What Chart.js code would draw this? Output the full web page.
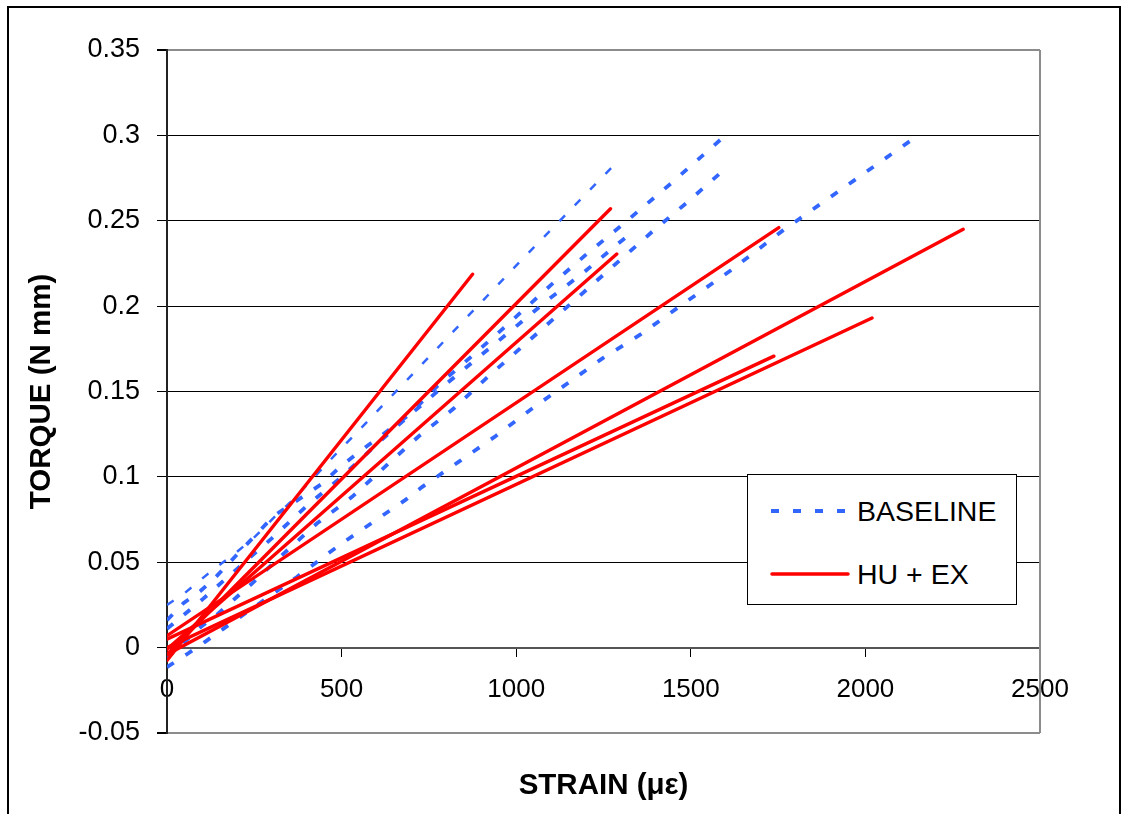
<!DOCTYPE html>
<html>
<head>
<meta charset="utf-8">
<script src="https://cdn.jsdelivr.net/npm/chart.js@4.4.1/dist/chart.umd.min.js"></script>
<style>
  html, body { margin: 0; padding: 0; background: #fff; overflow: hidden; }
  #wrap { position: relative; width: 1130px; height: 814px; }
  #legend {
    position: absolute; left: 747px; top: 474px; width: 268px; height: 129px;
    border: 1px solid #000; background: #fff;
    font-family: "Liberation Sans", Arial, sans-serif; font-size: 28.5px; color: #000;
  }
  .row { position: absolute; left: 0; right: 0; height: 40px; }
  .row svg { position: absolute; left: 22px; top: 15px; }
  .row span { position: absolute; left: 109px; top: 0; line-height: 40px; white-space: nowrap; }
</style>
</head>
<body>
<div id="wrap">
  <canvas id="chart" width="1130" height="814"></canvas>
  <div id="legend"></div>
</div>
<script>
const FONT = "'Liberation Sans', Arial, sans-serif";
const BLUE = '#3366ff';
const RED = '#ff0000';

const strainTicks = [0, 500, 1000, 1500, 2000, 2500];
const torqueTicks = [-0.05, 0, 0.05, 0.1, 0.15, 0.2, 0.25, 0.3, 0.35];

// baseline specimens, [strain, torque]
const baseline1 = [[0, 0.025], [51, 0.032], [104, 0.041], [147, 0.048], [200, 0.056], [252, 0.065], [310, 0.077], [358, 0.086], [491, 0.115], [539, 0.125], [1020, 0.228], [1282, 0.283]];
const baseline2 = [[0, 0.016], [47, 0.026], [95, 0.033], [138, 0.041], [305, 0.077], [444, 0.096], [496, 0.106], [553, 0.115], [632, 0.127], [697, 0.137], [773, 0.153], [869, 0.170], [963, 0.187], [1103, 0.213], [1199, 0.230], [1297, 0.2465], [1444, 0.272], [1588, 0.298]];
const baseline3 = [[0, -0.006], [99, 0.0125], [147, 0.020], [243, 0.0375], [334, 0.055], [429, 0.0727], [530, 0.0883], [630, 0.107], [721, 0.1238], [821, 0.140], [914, 0.1577], [1010, 0.175], [1394, 0.2444], [1488, 0.2605], [1581, 0.2773]];
const baseline4 = [[0, -0.0114], [56, -0.004], [109, 0.0034], [161, 0.011], [314, 0.033], [372, 0.0414], [467, 0.056], [515, 0.063], [577, 0.0717], [682, 0.0864], [730, 0.094], [835, 0.1088], [938, 0.1234], [1039, 0.139], [1247, 0.1694], [1356, 0.1834], [1460, 0.1987], [1615, 0.221], [1765, 0.2445], [2135, 0.2977]];
const baseline5 = [[0, 0.011], [100, 0.028], [200, 0.046], [300, 0.064], [400, 0.083], [500, 0.100], [600, 0.119], [700, 0.137], [797, 0.154], [896, 0.1707], [993, 0.187], [1096, 0.2045], [1192, 0.2195], [1291, 0.2365], [1337, 0.244]];

// HU + EX specimens
const huex1 = [[0, -0.0075], [875, 0.2187]];
const huex2 = [[0, -0.004], [1270, 0.257]];
const huex3 = [[0, -0.001], [1288, 0.2305]];
const huex4 = [[0, 0.007], [1752, 0.246]];
const huex5 = [[0, -0.004], [2280, 0.245]];
const huex6 = [[0, 0.0], [2019, 0.193]];
const huex7 = [[0, 0.005], [1738, 0.1707]];

const baselineSets = [baseline1, baseline2, baseline3, baseline4, baseline5];
const huexSets = [huex1, huex2, huex3, huex4, huex5, huex6, huex7];

const legendItems = [
  { label: 'BASELINE', color: BLUE, dash: [8, 14], width: 4 },
  { label: 'HU + EX', color: RED, dash: [], width: 3.5 },
];

function toPoints(pairs) {
  return pairs.map(([x, y]) => ({ x, y }));
}

const datasets = [];
baselineSets.forEach((s, i) => {
  datasets.push({
    label: 'BASELINE',
    data: toPoints(s),
    borderColor: BLUE,
    borderWidth: i === 0 ? 2.5 : 3.8,
    borderDash: [8, 14],
    order: 1,
  });
});
huexSets.forEach(s => {
  datasets.push({
    label: 'HU + EX',
    data: toPoints(s),
    borderColor: RED,
    borderWidth: 3.4,
    borderCapStyle: 'round',
    order: 0,
  });
});

const isEdge = v => Math.abs(v - 0.35) < 1e-9 || Math.abs(v + 0.05) < 1e-9;

// outer frame and right edge of the plot area
const framePlugin = {
  id: 'frame',
  beforeDraw(chart) {
    const ctx = chart.ctx;
    ctx.save();
    ctx.fillStyle = '#fff';
    ctx.fillRect(0, 0, chart.width, chart.height);
    ctx.strokeStyle = '#000';
    ctx.lineWidth = 2;
    ctx.strokeRect(8, 7, 1112, 860);
    ctx.restore();
  },
  beforeDatasetsDraw(chart) {
    const { ctx, chartArea } = chart;
    ctx.save();
    ctx.strokeStyle = '#8c8c8c';
    ctx.lineWidth = 2;
    ctx.beginPath();
    ctx.moveTo(chartArea.right, chartArea.top);
    ctx.lineTo(chartArea.right, chartArea.bottom);
    ctx.stroke();
    ctx.restore();
  },
};

new Chart(document.getElementById('chart'), {
  type: 'line',
  data: { datasets },
  plugins: [framePlugin],
  options: {
    responsive: false,
    animation: false,
    devicePixelRatio: 1,
    layout: { padding: { left: 0, top: 50, right: 90, bottom: 81 } },
    elements: {
      point: { radius: 0, hoverRadius: 0 },
      line: { tension: 0, fill: false },
    },
    plugins: {
      legend: { display: false },
      tooltip: { enabled: false },
    },
    scales: {
      x: {
        type: 'linear',
        min: 0,
        max: 2500,
        position: { y: 0 },
        afterBuildTicks: scale => { scale.ticks = strainTicks.map(v => ({ value: v })); },
        ticks: {
          color: '#000',
          padding: 0,
          maxRotation: 0,
          font: { family: FONT, size: 26, lineHeight: 2.65 },
          callback: v => String(v),
        },
        grid: { drawOnChartArea: false, drawTicks: true, tickLength: 8, color: '#000', tickColor: '#000' },
        border: { display: true, color: '#555', width: 2 },
        title: {
          display: true,
          text: 'STRAIN (με)',
          color: '#000',
          font: { family: FONT, size: 29.5, weight: 'bold' },
          padding: { top: 44, bottom: 0 },
        },
      },
      y: {
        type: 'linear',
        min: -0.05,
        max: 0.35,
        position: 'left',
        afterBuildTicks: scale => { scale.ticks = torqueTicks.map(v => ({ value: v })); },
        afterFit: scale => { scale.width = 167; },
        ticks: {
          color: '#000',
          padding: 17,
          font: { family: FONT, size: 27 },
          callback: v => String(+v.toFixed(2)),
        },
        grid: {
          color: c => (c.tick && isEdge(c.tick.value) ? '#8c8c8c' : '#000'),
          lineWidth: c => (c.tick && isEdge(c.tick.value) ? 2 : 1),
          tickLength: 10,
          tickColor: '#000',
        },
        border: { display: true, color: '#222', width: 2 },
        title: {
          display: true,
          text: 'TORQUE (N mm)',
          color: '#000',
          font: { family: FONT, size: 29.5, weight: 'bold' },
          padding: { top: 24, bottom: 0 },
        },
      },
    },
  },
});

// legend box with one sample per group
const legend = document.getElementById('legend');
const rowCentres = [36, 99];
legendItems.forEach((item, i) => {
  const row = document.createElement('div');
  row.className = 'row';
  row.style.top = (rowCentres[i] - 20) + 'px';
  const svgNS = 'http://www.w3.org/2000/svg';
  const svg = document.createElementNS(svgNS, 'svg');
  svg.setAttribute('width', '80');
  svg.setAttribute('height', '10');
  const line = document.createElementNS(svgNS, 'line');
  line.setAttribute('x1', i === 0 ? '1' : '2');
  line.setAttribute('x2', i === 0 ? '75' : '78');
  line.setAttribute('y1', '5');
  line.setAttribute('y2', '5');
  line.setAttribute('stroke', item.color);
  line.setAttribute('stroke-width', item.width);
  if (item.dash.length) line.setAttribute('stroke-dasharray', item.dash.join(' '));
  else line.setAttribute('stroke-linecap', 'round');
  svg.appendChild(line);
  const text = document.createElement('span');
  text.textContent = item.label;
  row.appendChild(svg);
  row.appendChild(text);
  legend.appendChild(row);
});
</script>
</body>
</html>
